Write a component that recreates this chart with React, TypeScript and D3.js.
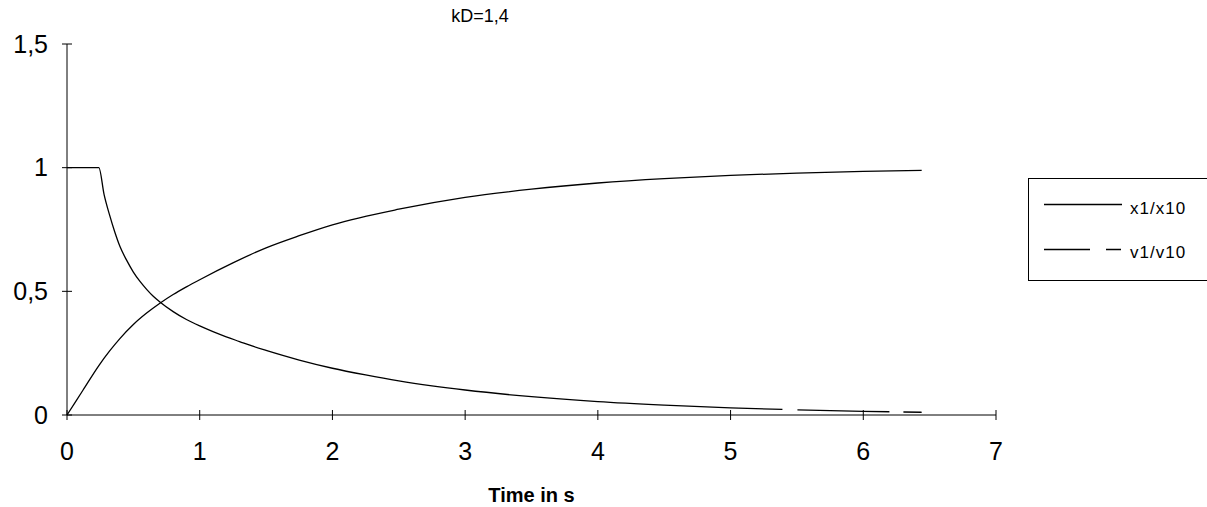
import React, { useEffect, useRef } from "react";
import * as d3 from "d3";

const title = "kD=1,4";
const xAxisTitle = "Time in s";
const xTicks = [0, 1, 2, 3, 4, 5, 6, 7];
const yTicks = [0, 0.5, 1, 1.5];
const seriesNames = ["x1/x10", "v1/v10"];

const timeX = [0, 0.12, 0.24, 0.32, 0.4, 0.5, 0.6, 0.7, 0.8, 0.9, 1.0, 1.25, 1.5, 1.75, 2.0, 2.5, 3.0, 3.5, 4.0, 4.5, 5.0, 5.5, 6.0, 6.44];
const x1Ratio = [0, 0.1, 0.2, 0.258, 0.31, 0.366, 0.412, 0.452, 0.487, 0.518, 0.547, 0.615, 0.676, 0.725, 0.769, 0.832, 0.88, 0.913, 0.938, 0.956, 0.969, 0.978, 0.985, 0.989];

const timeV = [0, 0.24, 0.28, 0.32, 0.36, 0.4, 0.45, 0.5, 0.55, 0.6, 0.65, 0.7, 0.8, 0.9, 1.0, 1.1, 1.2, 1.3, 1.4, 1.5, 1.75, 2.0, 2.25, 2.5, 2.75, 3.0, 3.5, 4.0, 4.5, 5.0, 5.5, 6.0, 6.44];
const v1Ratio = [1, 1, 0.89, 0.81, 0.74, 0.68, 0.625, 0.578, 0.54, 0.508, 0.48, 0.457, 0.418, 0.386, 0.36, 0.337, 0.316, 0.297, 0.278, 0.261, 0.222, 0.189, 0.162, 0.138, 0.118, 0.101, 0.074, 0.054, 0.04, 0.029, 0.021, 0.015, 0.011];

// time where the dashed pattern of v1/v10 begins
const vDashStart = 5.39;

const W = 1207;
const H = 507;
const FONT = "'Liberation Sans', Arial, Helvetica, sans-serif";

export default function App() {
  const vRef = useRef<SVGPathElement | null>(null);

  const xScale = d3.scaleLinear().domain([0, 7]).range([67, 996]);
  const yScale = d3.scaleLinear().domain([0, 1.5]).range([415, 44]);
  const fmt = d3.formatLocale({ decimal: ",", thousands: ".", grouping: [3], currency: ["", ""] }).format("~g");

  const line = d3
    .line<[number, number]>()
    .x((d) => xScale(d[0]))
    .y((d) => yScale(d[1]))
    .curve(d3.curveMonotoneX);

  const xData: [number, number][] = timeX.map((t, i) => [t, x1Ratio[i]]);
  const vData: [number, number][] = timeV.map((t, i) => [t, v1Ratio[i]]);

  useEffect(() => {
    const p = vRef.current;
    if (!p) return;
    const total = p.getTotalLength();
    const target = xScale(vDashStart);
    let lo = 0, hi = total;
    for (let k = 0; k < 40; k++) {
      const mid = (lo + hi) / 2;
      if (p.getPointAtLength(mid).x < target) lo = mid;
      else hi = mid;
    }
    d3.select(p).attr("stroke-dasharray", `${lo} 15 92 14 400`);
  }, []);

  const x0 = xScale(0);
  const y0 = yScale(0);

  return (
    <svg width={W} height={H} style={{ position: "absolute", left: 0, top: 0, background: "#fff" }}>
      {/* title */}
      <text x={480} y={22} textAnchor="middle" fontFamily={FONT} fontSize={18} fill="#000">
        {title}
      </text>

      {/* axes */}
      <line x1={x0} x2={x0} y1={yScale(1.5)} y2={y0} stroke="#000" strokeWidth={1} />
      <line x1={x0} x2={xScale(7)} y1={y0} y2={y0} stroke="#000" strokeWidth={1} />
      {yTicks.map((t) => (
        <g key={"y" + t}>
          <line x1={x0 - 5} x2={x0 + 5} y1={yScale(t)} y2={yScale(t)} stroke="#000" />
          <text x={48} y={yScale(t)} dy="0.35em" textAnchor="end" fontFamily={FONT} fontSize={25} fill="#000">
            {fmt(t)}
          </text>
        </g>
      ))}
      {xTicks.map((t) => (
        <g key={"x" + t}>
          <line x1={xScale(t)} x2={xScale(t)} y1={y0 - 5} y2={y0 + 5} stroke="#000" />
          <text x={xScale(t)} y={460} textAnchor="middle" fontFamily={FONT} fontSize={25} fill="#000">
            {fmt(t)}
          </text>
        </g>
      ))}
      <text x={(xScale(0) + xScale(7)) / 2} y={502} textAnchor="middle" fontFamily={FONT} fontSize={20} fontWeight="bold" fill="#000">
        {xAxisTitle}
      </text>

      {/* series */}
      <path d={line(xData) || ""} fill="none" stroke="#000" strokeWidth={1.3} />
      <path ref={vRef} d={line(vData) || ""} fill="none" stroke="#000" strokeWidth={1.3} />

      {/* legend */}
      <rect x={1028.5} y={178.5} width={200} height={102} fill="#fff" stroke="#000" strokeWidth={1} />
      <line x1={1044} x2={1122} y1={204.5} y2={204.5} stroke="#000" strokeWidth={1.3} />
      <text x={1130} y={209} dy="0.3em" fontFamily={FONT} fontSize={17} letterSpacing={1} fill="#000">
        {seriesNames[0]}
      </text>
      <line x1={1044} x2={1121} y1={249.5} y2={249.5} stroke="#000" strokeWidth={1.3} strokeDasharray="46 16 30" />
      <text x={1130} y={253} dy="0.3em" fontFamily={FONT} fontSize={17} letterSpacing={1} fill="#000">
        {seriesNames[1]}
      </text>
    </svg>
  );
}
